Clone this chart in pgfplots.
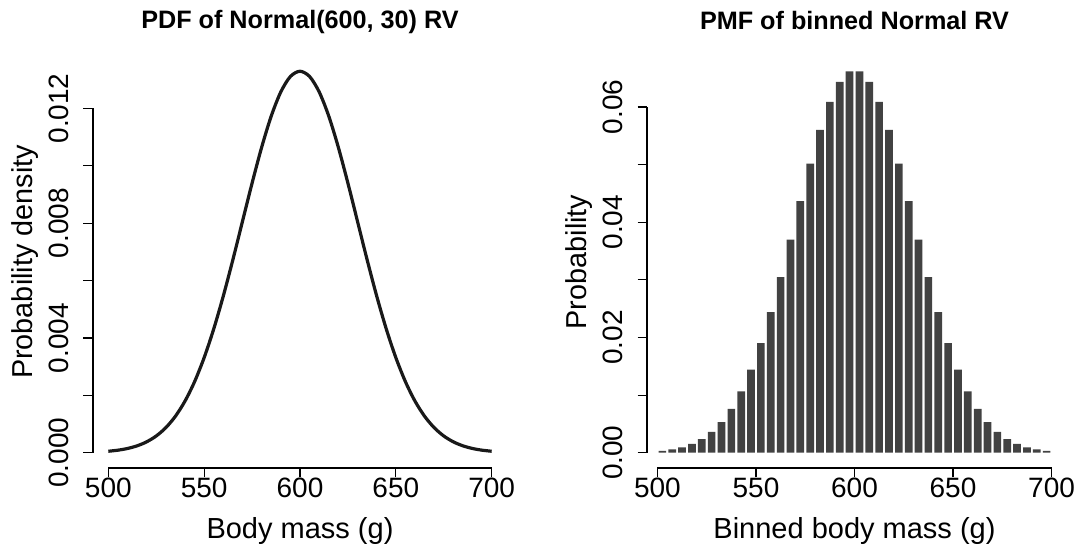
\documentclass[border=0pt]{standalone}
\usepackage{fontspec}
\setmainfont{Liberation Sans}
\usepackage{pgfplots}
\pgfplotsset{compat=1.18}

\pgfplotstableread{
x y
500 0.0000514
505 0.0000884
510 0.0001477
515 0.0002402
520 0.0003799
525 0.0005843
530 0.0008737
535 0.0012717
540 0.0017997
545 0.002477
550 0.003316
555 0.004317
560 0.005467
565 0.006733
570 0.008066
575 0.009397
580 0.010648
585 0.011736
590 0.012579
595 0.013115
600 0.013298
605 0.013115
610 0.012579
615 0.011736
620 0.010648
625 0.009397
630 0.008066
635 0.006733
640 0.005467
645 0.004317
650 0.003316
655 0.002477
660 0.0017997
665 0.0012717
670 0.0008737
675 0.0005843
680 0.0003799
685 0.0002402
690 0.0001477
695 0.0000884
700 0.0000514
}\pdfdata

\pgfplotstableread{
x p
502.5 0.00034
507.5 0.00058
512.5 0.00095
517.5 0.00153
522.5 0.00238
527.5 0.00361
532.5 0.00531
537.5 0.00762
542.5 0.01063
547.5 0.01441
552.5 0.01902
557.5 0.02440
562.5 0.03046
567.5 0.03699
572.5 0.04367
577.5 0.05016
582.5 0.05605
587.5 0.06090
592.5 0.06436
597.5 0.06620
602.5 0.06620
607.5 0.06436
612.5 0.06090
617.5 0.05605
622.5 0.05016
627.5 0.04367
632.5 0.03699
637.5 0.03046
642.5 0.02440
647.5 0.01902
652.5 0.01441
657.5 0.01063
662.5 0.00762
667.5 0.00531
672.5 0.00361
677.5 0.00238
682.5 0.00153
687.5 0.00095
692.5 0.00058
697.5 0.00034
}\pmfdata

\pgfplotsset{rstyle/.style={
  scale only axis, clip=false,
  axis x line*=bottom, axis y line*=left,
  x axis line style={draw=none,-}, y axis line style={draw=none,-},
  tick align=outside, major tick length=4.75pt,
  every tick/.style={black, line width=0.6pt},
  tick label style={font=\fontsize{14}{16}\selectfont},
  /pgf/number format/assume math mode=true,
  scaled y ticks=false, scaled x ticks=false,
  xtick={500,550,...,700},
  xticklabel style={yshift=3.5pt},
  yticklabel style={rotate=90, anchor=south, yshift=3.8pt},
  xlabel style={at={(axis description cs:0.5,-0.170)}, anchor=base, font=\fontsize{14.5}{17}\selectfont},
  ylabel style={at={(axis description cs:-0.147,0.5)}, anchor=base, font=\fontsize{14.4}{17}\selectfont},
  every axis title shift=0pt,
  title style={at={(axis description cs:0.5,1.0655)}, anchor=base, yshift=0pt, font=\bfseries\fontsize{12.6}{15}\selectfont},
}}

\begin{document}
\begin{tikzpicture}
\useasboundingbox (0,0) rectangle (541pt,274.5pt);

\begin{axis}[rstyle,
  at={(46.5pt,40.5pt)}, anchor=south west,
  width=207pt, height=206pt,
  xmin=492, xmax=708, ymin=-0.000532, ymax=0.01383,
  ytick={0,0.002,0.004,0.006,0.008,0.010,0.012},
  yticklabels={0.000,{},0.004,{},0.008,{},0.012},
  title={PDF of Normal(600, 30) RV},
  xlabel={Body mass (g)},
  ylabel={Probability density},
]
\addplot[line width=1.6pt, color=black!90, smooth, mark=none] table[x=x,y=y] {\pdfdata};
\draw[line width=0.6pt] (axis cs:500,-0.000532) -- (axis cs:700,-0.000532);
\draw[line width=0.6pt] (axis cs:492,0) -- (axis cs:492,0.012);
\end{axis}

\begin{axis}[rstyle,
  at={(323.5pt,40.5pt)}, anchor=south west,
  width=207.5pt, height=206pt,
  xmin=494.7, xmax=705.3, ymin=-0.002648, ymax=0.06885,
  ytick={0,0.01,0.02,0.03,0.04,0.05,0.06},
  yticklabels={0.00,{},0.02,{},0.04,{},0.06},
  title={PMF of binned Normal RV},
  xlabel={Binned body mass (g)},
  ylabel={Probability},
]
\addplot[ybar, bar width=3.9, fill=black!74, draw=none] table[x=x,y=p] {\pmfdata};
\draw[line width=0.6pt] (axis cs:500,-0.002648) -- (axis cs:700,-0.002648);
\draw[line width=0.6pt] (axis cs:494.7,0) -- (axis cs:494.7,0.06);
\end{axis}
\end{tikzpicture}
\end{document}
